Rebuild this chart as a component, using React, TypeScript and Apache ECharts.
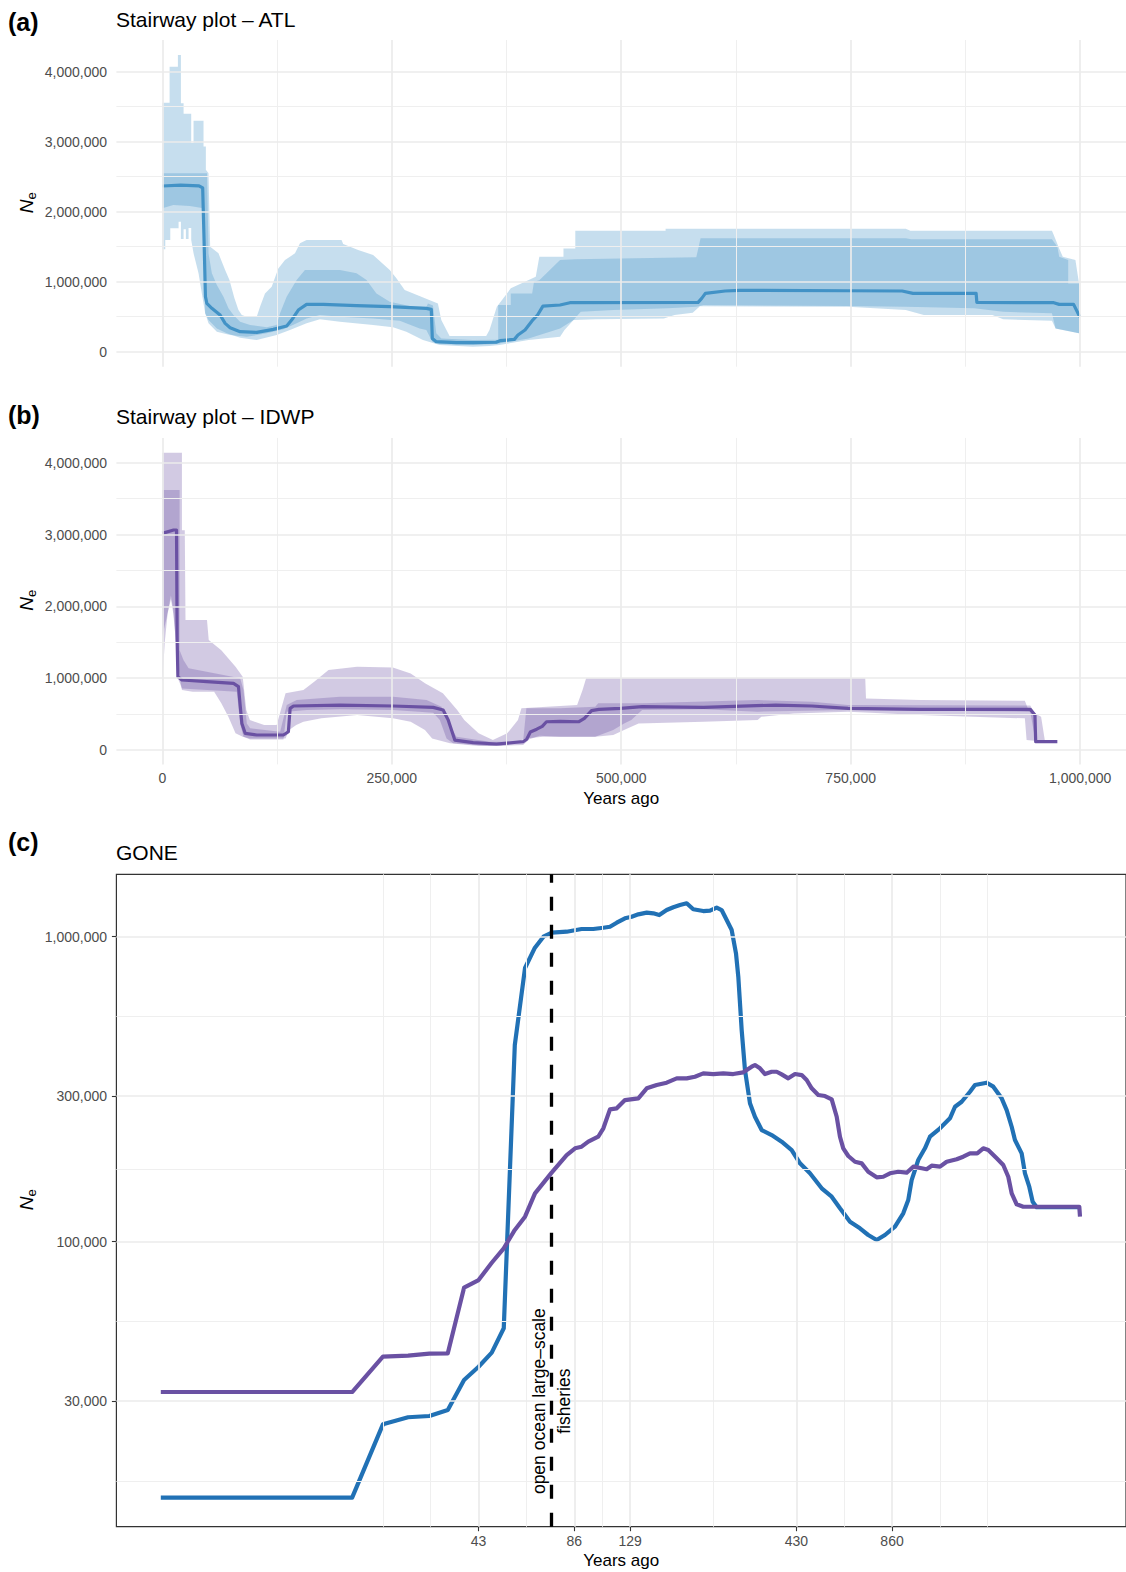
import React, { useEffect, useRef } from 'react';
import * as echarts from 'echarts';

type P = [number, number];

// ---------- Panel (a): Stairway plot – ATL (years ago, Ne) ----------
const atlMedian: P[] = [
  [0, 2367000], [20000, 2380000], [40000, 2370000], [44000, 2340000], [45500, 1600000], [47000, 786000],
  [48550, 690000], [54000, 620000], [63000, 524000], [68500, 405000], [73900, 343000], [84800, 286000],
  [102900, 276000], [121000, 319000], [135500, 367000], [140900, 452000], [148200, 595000], [157200, 676000],
  [175400, 676000], [211600, 657000], [247800, 643000], [287700, 619000], [293100, 605000], [294200, 190000],
  [298500, 143000], [320300, 129000], [338400, 129000], [363700, 135000], [368000, 157000], [383600, 176000],
  [387500, 238000], [395200, 310000], [403000, 443000], [408900, 524000], [414700, 652000], [433400, 667000],
  [444100, 700000], [583800, 705000], [587700, 762000], [591700, 833000], [613300, 867000], [629000, 876000],
  [747100, 871000], [806100, 867000], [817900, 833000], [886700, 833000], [887500, 705000], [971300, 700000],
  [977200, 676000], [992900, 676000], [999600, 500000],
];
const atlUpper95: P[] = [
  [0, 3557000], [7970, 3557000], [7970, 4070000], [17030, 4070000], [17030, 4240000], [20290, 4240000],
  [20290, 3550000], [23190, 3550000], [23190, 3400000], [31520, 3400000], [31520, 2980000], [34060, 2980000],
  [34060, 3300000], [44930, 3300000], [44930, 2930000], [47460, 2930000], [47460, 2600000], [50360, 2550000],
  [52170, 1500000], [61230, 1405000], [68470, 1167000], [73180, 1024000], [78620, 762000], [82970, 595000],
  [86590, 524000], [92020, 500000], [102900, 500000], [106500, 643000], [111900, 833000], [119200, 929000],
  [126400, 1190000], [133700, 1310000], [144600, 1405000], [150000, 1548000], [157200, 1595000], [195300, 1595000],
  [197100, 1538000], [213400, 1452000], [229700, 1381000], [247800, 1167000], [255100, 1048000], [264100, 881000],
  [282200, 786000], [300300, 690000], [304000, 452000], [313000, 224000], [352900, 224000], [356500, 310000],
  [364500, 643000], [366000, 667000], [379700, 905000], [406900, 1071000], [410800, 1357000], [437100, 1357000],
  [437100, 1476000], [450000, 1476000], [450000, 1729000], [548400, 1729000], [548400, 1757000], [810000, 1757000],
  [815000, 1729000], [969300, 1729000], [971300, 1667000], [977200, 1476000], [981100, 1357000], [994900, 1310000],
  [998800, 976000],
];
const atlLower95: P[] = [
  [0, 1462000], [3260, 1462000], [3260, 1595000], [8700, 1595000], [8700, 1762000], [17750, 1762000],
  [17750, 1857000], [20290, 1857000], [20290, 1610000], [23190, 1610000], [23190, 1750000], [25720, 1750000],
  [25720, 1610000], [28620, 1610000], [28620, 1767000], [31520, 1767000], [31520, 1595000], [34060, 1405000],
  [39490, 1119000], [43110, 833000], [46740, 548000], [50360, 452000], [59420, 333000], [70290, 262000],
  [84780, 200000], [102900, 167000], [124600, 238000], [139100, 310000], [157200, 405000], [171700, 462000],
  [193500, 429000], [229700, 381000], [251400, 348000], [265900, 286000], [284000, 167000], [302200, 95000],
  [338400, 71000], [356500, 81000], [367400, 95000], [399100, 167000], [433400, 214000], [438200, 310000],
  [448100, 452000], [471700, 462000], [546400, 476000], [558200, 524000], [577900, 557000], [585800, 650000],
  [747100, 643000], [810000, 595000], [829700, 524000], [904400, 524000], [916200, 462000], [969300, 443000],
  [973300, 333000], [998800, 262000],
];
const atlUpper75: P[] = [
  [0, 2548000], [48700, 2548000], [50000, 1700000], [50360, 1405000], [54000, 1119000], [59420, 952000],
  [66650, 786000], [72080, 619000], [77510, 524000], [84780, 429000], [95650, 381000], [113800, 348000],
  [124600, 381000], [128300, 548000], [135500, 786000], [146400, 1024000], [155400, 1167000], [193500, 1167000],
  [211600, 1119000], [222500, 1024000], [233300, 833000], [247800, 714000], [273200, 643000], [287700, 640000],
  [289500, 690000], [294900, 660000], [298500, 262000], [304000, 190000], [338400, 167000], [366000, 170000],
  [366000, 667000], [379700, 667000], [379700, 833000], [403000, 833000], [405000, 1000000], [410800, 1020000],
  [433400, 1310000], [450000, 1320000], [581800, 1348000], [586500, 1619000], [810000, 1619000], [815900, 1605000],
  [969300, 1605000], [975200, 1500000], [977200, 1357000], [987000, 1310000], [987000, 976000], [998800, 976000],
];
const atlLower75: P[] = [
  [0, 2048000], [12000, 2095000], [30000, 2080000], [44900, 2048000], [46000, 1000000], [46740, 548000],
  [50360, 405000], [59420, 286000], [73900, 238000], [92020, 214000], [113800, 262000], [131900, 319000],
  [146400, 405000], [157200, 476000], [171700, 524000], [193500, 500000], [229700, 476000], [258700, 443000],
  [280400, 333000], [287700, 310000], [294200, 143000], [302200, 110000], [338400, 95000], [363700, 110000],
  [399100, 190000], [433400, 333000], [448100, 452000], [455900, 571000], [491300, 595000], [550400, 619000],
  [581800, 643000], [589700, 667000], [747100, 652000], [810000, 643000], [884700, 619000], [916200, 571000],
  [969300, 548000], [973300, 333000], [998800, 262000],
];

// ---------- Panel (b): Stairway plot – IDWP ----------
const idwpMedian: P[] = [
  [0, 3016000], [12300, 3063000], [15500, 3063000], [16200, 1500000], [17000, 1020000], [21400, 975000],
  [48600, 951000], [77600, 928000], [83000, 882000], [85000, 600000], [86700, 371000], [90300, 232000],
  [103000, 209000], [132000, 209000], [137400, 255000], [138500, 450000], [139300, 580000], [142900, 613000],
  [193600, 626000], [251600, 613000], [295200, 594000], [306000, 557000], [311500, 418000], [318700, 139000],
  [338700, 102000], [364100, 84000], [393100, 116000], [397000, 150000], [401000, 250000], [408000, 290000],
  [414000, 330000], [418600, 394000], [433400, 400000], [454000, 394000], [459900, 441000], [467700, 548000],
  [475600, 566000], [499200, 580000], [522800, 603000], [589700, 594000], [668400, 626000], [707700, 613000],
  [747100, 580000], [825700, 566000], [945700, 566000], [950800, 487000], [951600, 116000], [975200, 116000],
];
const idwpUpper95: P[] = [
  [0, 4140000], [21400, 4140000], [21400, 3060000], [24500, 3060000], [25300, 1810000], [48700, 1810000],
  [50600, 1530000], [64300, 1390000], [79800, 1160000], [87600, 1020000], [91500, 557000], [95400, 418000],
  [111000, 348000], [124600, 348000], [134300, 789000], [153800, 835000], [165500, 951000], [181100, 1114000],
  [212200, 1160000], [251200, 1150000], [270600, 1067000], [286200, 928000], [305700, 789000], [321300, 557000],
  [329000, 418000], [344600, 232000], [360200, 139000], [375800, 232000], [387500, 418000], [391300, 580000],
  [452000, 626000], [457900, 835000], [461800, 998000], [765900, 998000], [766700, 719000], [825700, 696000],
  [939800, 687000], [943700, 557000], [957500, 464000], [961500, 139000],
];
const idwpLower95: P[] = [
  [0, 928000], [2700, 1500000], [5800, 1900000], [9400, 2100000], [12000, 1900000], [15600, 1400000],
  [19500, 974000], [21400, 835000], [33100, 812000], [56500, 812000], [64300, 650000], [72000, 464000],
  [79800, 232000], [87600, 186000], [95400, 162000], [134300, 162000], [138200, 278000], [145900, 348000],
  [153800, 394000], [173300, 441000], [212200, 487000], [251200, 441000], [270600, 394000], [286200, 278000],
  [294000, 162000], [313500, 93000], [344600, 56000], [368000, 56000], [383600, 84000], [395200, 162000],
  [414700, 186000], [471700, 186000], [491300, 209000], [503100, 278000], [518900, 371000], [589700, 394000],
  [648700, 418000], [652700, 464000], [688000, 510000], [747100, 534000], [825700, 487000], [939800, 441000],
  [941700, 139000], [961500, 116000],
];
const idwpUpper75: P[] = [
  [0, 3620000], [18850, 3620000], [18850, 1390000], [23200, 1250000], [28650, 1140000], [84850, 1000000],
  [88470, 835000], [92100, 371000], [95700, 302000], [128400, 255000], [135600, 626000], [146500, 696000],
  [193600, 742000], [251600, 742000], [287900, 696000], [304200, 603000], [309700, 418000], [320500, 186000],
  [356800, 116000], [393100, 116000], [396700, 580000], [433400, 580000], [471700, 603000], [475000, 650000],
  [522800, 650000], [648700, 696000], [707700, 673000], [747100, 626000], [945700, 620000], [950800, 500000],
  [951600, 130000],
];
const idwpLower75: P[] = [
  [0, 1580000], [5000, 1860000], [9400, 2150000], [12000, 1950000], [15200, 1440000], [17770, 974000],
  [21400, 858000], [81200, 812000], [84850, 371000], [88470, 186000], [95700, 148000], [132000, 148000],
  [135600, 534000], [157400, 557000], [193600, 566000], [251600, 557000], [295200, 520000], [302400, 418000],
  [309700, 162000], [316900, 93000], [356800, 56000], [393100, 70000], [400000, 150000], [411200, 200000],
  [433400, 186000], [471700, 186000], [491300, 278000], [503100, 371000], [511000, 418000], [522800, 557000],
  [589700, 566000], [648700, 534000], [747100, 557000], [939800, 534000], [945700, 530000], [951600, 116000],
];

// ---------- Panel (c): GONE (years ago, Ne) ----------
const goneAtl: P[] = [
  [4.3, 14480], [8.6, 14480], [12.9, 14480], [17.2, 14480], [21.5, 25190], [25.8, 26570], [30.1, 26830],
  [34.4, 28070], [38.7, 35210], [43, 38920], [47.3, 43270], [51.6, 52010], [55.9, 441500], [60.2, 789500],
  [64.5, 916200], [68.8, 1000000], [73.1, 1031000], [81.4, 1038500], [90.7, 1060000], [98.7, 1060000],
  [106.2, 1070000], [111.4, 1078000], [117.0, 1111500], [124.2, 1149000], [130.4, 1163000], [136.8, 1184000],
  [145.4, 1199000], [152.5, 1193000], [159.2, 1178000], [168.0, 1223000], [176.3, 1249000], [185.0, 1270000],
  [194.2, 1287000], [203.7, 1230000], [219.0, 1214000], [229.9, 1217000], [241.4, 1245000], [250.2, 1223000],
  [259.5, 1134000], [269.1, 1052000], [277.6, 882400], [282.3, 739300], [289.3, 494400], [296.3, 365600],
  [307.2, 284300], [318.5, 256900], [334.4, 232400], [359.5, 223800], [386.5, 212800], [415.6, 199800],
  [441.4, 180700], [474.5, 167600], [516.6, 149700], [555.4, 140500], [589.7, 128700], [634.2, 116300],
  [681.6, 110600], [723.8, 105200], [769.4, 101300], [817.0, 105200], [878.4, 112000], [932.8, 123900],
  [967.2, 137000], [991.2, 159300], [1039.8, 185300], [1091.6, 202400], [1131.8, 220900], [1217.4, 235400],
  [1308.3, 253900], [1357.0, 277000], [1424.2, 287700], [1512.7, 310300], [1568.4, 326500], [1707.5, 332200],
  [1791.3, 322400], [1903.1, 295200], [1973.4, 270200], [2046.4, 238200], [2095.5, 215600], [2199.7, 194900],
  [2253.1, 167600], [2324.3, 151500], [2382.3, 135200], [2452.4, 129700], [3357, 129700],
];
const goneIdwp: P[] = [
  [4.3, 32150], [8.6, 32150], [12.9, 32150], [17.2, 32150], [21.5, 41980], [25.8, 42290], [30.1, 42940],
  [34.4, 43070], [38.7, 70670], [43, 74880], [47.3, 85330], [51.6, 95150], [55.9, 109300], [60.2, 120800],
  [64.7, 144100], [73.0, 168400], [81.4, 192400], [86.5, 202400], [90.7, 204900], [95.2, 212800],
  [102.3, 220900], [106.2, 235400], [111.4, 271600], [117.0, 273700], [124.2, 291400], [136.8, 295200],
  [145.4, 318400], [156.3, 326500], [168.0, 332200], [180.7, 343300], [194.2, 343300], [206.2, 347500],
  [219.0, 356500], [235.5, 354600], [253.2, 356500], [272.2, 354600], [292.7, 359200], [311.0, 374800],
  [318.5, 379600], [330.3, 370300], [342.5, 354600], [359.5, 360800], [372.8, 360800], [386.5, 353800],
  [405.5, 343300], [425.7, 354600], [446.9, 351800], [463.3, 339000], [480.4, 318400], [503.9, 302700],
  [529.0, 300400], [555.4, 293000], [575.9, 256900], [589.7, 220900], [604.0, 202400], [626.3, 191000],
  [657.5, 182900], [690.2, 180700], [723.8, 169600], [769.4, 162600], [807.0, 163300], [847.2, 167600],
  [899.6, 169600], [956.3, 168400], [1002.8, 176200], [1066.0, 174100], [1105.1, 172800], [1146.0, 177500],
  [1217.4, 176200], [1277.5, 182900], [1373.4, 186300], [1440.5, 190000], [1512.7, 194900], [1594.4, 194900],
  [1665.4, 202400], [1726.9, 199800], [1835.7, 187700], [1925.1, 178400], [1996.5, 163300], [2046.4, 144100],
  [2121.6, 132600], [2225.7, 130200], [3340, 130200], [3357, 120800],
];
const fisheriesYear = 73;
const fisheriesLabelNe = 30000;
const fisheriesLabel = 'open ocean large–scale\nfisheries';

// ---------- Axis breaks ----------
const stairXTicks = [0, 250000, 500000, 750000, 1000000];
const stairXMinor = [125000, 375000, 625000, 875000];
const stairYTicks = [0, 1000000, 2000000, 3000000, 4000000];
const stairYMinor = [500000, 1500000, 2500000, 3500000];
const goneXTicks = [43, 86, 129, 430, 860];
const goneXMinor = [21.5, 30.4, 60.8, 105.3, 235.5, 608, 1216, 1720];
const goneYTicks = [30000, 100000, 300000, 1000000];
const goneYMinor = [16432, 54772, 173205, 547723];

const FONT = '"Liberation Sans", Arial, Helvetica, sans-serif';
const GRID_MAJOR = { color: '#EBEBEB', width: 1.7, type: 'solid' };
const GRID_MINOR = { color: '#EFEFEF', width: 1, type: 'solid' };
const ATL_BLUE = '#4292c6';
const ATL_BAND = 'rgba(66,146,198,0.3)';
const IDWP_PURPLE = '#6a51a3';
const IDWP_BAND = 'rgba(106,81,163,0.3)';
const GONE_BLUE = '#2171b5';

const fmt = (v: number) => Math.round(Number(v)).toLocaleString('en-US');

function gridLineSeries(idx: number, xMaj: number[], xMin: number[], yMaj: number[], yMin: number[]) {
  return {
    type: 'line',
    xAxisIndex: idx,
    yAxisIndex: idx,
    data: [],
    silent: true,
    z: 1,
    markLine: {
      silent: true,
      symbol: ['none', 'none'],
      label: { show: false },
      emphasis: { disabled: true },
      lineStyle: { type: 'solid' },
      data: [
        ...xMin.map((v) => ({ xAxis: v, lineStyle: GRID_MINOR })),
        ...yMin.map((v) => ({ yAxis: v, lineStyle: GRID_MINOR })),
        ...xMaj.map((v) => ({ xAxis: v, lineStyle: GRID_MAJOR })),
        ...yMaj.map((v) => ({ yAxis: v, lineStyle: GRID_MAJOR })),
      ],
    },
  };
}

function bandSeries(idx: number, upper: P[], lower: P[], fill: string) {
  return {
    type: 'custom',
    xAxisIndex: idx,
    yAxisIndex: idx,
    coordinateSystem: 'cartesian2d',
    silent: true,
    clip: true,
    z: 2,
    data: [upper[0]],
    renderItem: (_params: any, api: any) => {
      const pts = upper.map((p) => api.coord(p)).concat(lower.slice().reverse().map((p) => api.coord(p)));
      return { type: 'polygon', shape: { points: pts }, style: { fill, stroke: 'none' } };
    },
  };
}

function lineSeries(idx: number, data: P[], color: string, width: number, z = 3) {
  return {
    type: 'line',
    xAxisIndex: idx,
    yAxisIndex: idx,
    data,
    showSymbol: false,
    symbol: 'none',
    silent: true,
    z,
    lineStyle: { color, width, cap: 'butt', join: 'round' },
  };
}

const hidden = { show: false };
const tickLabel = (customValues: number[], margin: number) => ({
  show: true,
  customValues,
  formatter: (v: number) => fmt(v),
  color: '#4D4D4D',
  fontSize: 14,
  fontFamily: FONT,
  margin,
});

function text(x: number, y: number, t: string, size: number, extra: any = {}) {
  return {
    type: 'text',
    x,
    y,
    silent: true,
    style: {
      text: t,
      fontSize: size,
      fontFamily: FONT,
      fill: '#000',
      align: 'left',
      verticalAlign: 'middle',
      ...extra,
    },
  };
}

function neTitle(cx: number, cy: number) {
  return {
    type: 'group',
    x: cx,
    y: cy,
    rotation: Math.PI / 2,
    silent: true,
    children: [
      { type: 'text', x: -3, y: 0, style: { text: 'N', fontSize: 19, fontStyle: 'italic', fontFamily: FONT, fill: '#000', align: 'center', verticalAlign: 'middle' } },
      { type: 'text', x: 7.5, y: 5, style: { text: 'e', fontSize: 13, fontFamily: FONT, fill: '#000', align: 'center', verticalAlign: 'middle' } },
    ],
  };
}

export default function App() {
  const ref = useRef<HTMLDivElement>(null);

  useEffect(() => {
    document.body.style.margin = '0';
    if (!ref.current) return;
    const chart = echarts.init(ref.current, undefined, { renderer: 'svg' });

    const gridA = { left: 116.4, top: 40, width: 1009.6, height: 326.7, show: false };
    const gridB = { left: 116.4, top: 437.9, width: 1009.6, height: 326.5, show: false };
    const gridC = { left: 116.4, top: 874.3, width: 1009.6, height: 652.4, show: true, borderColor: '#333333', borderWidth: 1.2, backgroundColor: 'transparent' };

    const baseAxis = { axisLine: hidden, axisTick: hidden, splitLine: hidden, minorSplitLine: hidden };

    const option: any = {
      animation: false,
      backgroundColor: '#ffffff',
      textStyle: { fontFamily: FONT },
      grid: [gridA, gridB, gridC],
      xAxis: [
        { ...baseAxis, type: 'value', gridIndex: 0, min: -50000, max: 1050000, axisLabel: hidden },
        { ...baseAxis, type: 'value', gridIndex: 1, min: -50000, max: 1050000, axisLabel: tickLabel(stairXTicks, 7) },
        {
          ...baseAxis,
          type: 'log',
          logBase: 10,
          gridIndex: 2,
          min: 3.117,
          max: 4685,
          axisLabel: tickLabel(goneXTicks, 7.5),
          axisTick: { show: true, customValues: goneXTicks, length: 4.5, lineStyle: { color: '#333333', width: 1.1 } },
        },
      ],
      yAxis: [
        { ...baseAxis, type: 'value', gridIndex: 0, min: -214300, max: 4452900, axisLabel: tickLabel(stairYTicks, 9.3) },
        { ...baseAxis, type: 'value', gridIndex: 1, min: -200000, max: 4345000, axisLabel: tickLabel(stairYTicks, 9.3) },
        {
          ...baseAxis,
          type: 'log',
          logBase: 10,
          gridIndex: 2,
          min: 11630,
          max: 1602000,
          axisLabel: tickLabel(goneYTicks, 9.3),
          axisTick: { show: true, customValues: goneYTicks, length: 4.5, lineStyle: { color: '#333333', width: 1.1 } },
        },
      ],
      series: [
        gridLineSeries(0, stairXTicks, stairXMinor, stairYTicks, stairYMinor),
        bandSeries(0, atlUpper95, atlLower95, ATL_BAND),
        bandSeries(0, atlUpper75, atlLower75, ATL_BAND),
        lineSeries(0, atlMedian, ATL_BLUE, 3.2),

        gridLineSeries(1, stairXTicks, stairXMinor, stairYTicks, stairYMinor),
        bandSeries(1, idwpUpper95, idwpLower95, IDWP_BAND),
        bandSeries(1, idwpUpper75, idwpLower75, IDWP_BAND),
        lineSeries(1, idwpMedian, IDWP_PURPLE, 3.2),

        gridLineSeries(2, goneXTicks, goneXMinor, goneYTicks, goneYMinor),
        lineSeries(2, goneAtl, GONE_BLUE, 4.2, 4),
        lineSeries(2, goneIdwp, IDWP_PURPLE, 4.2, 5),
        {
          type: 'scatter',
          xAxisIndex: 2,
          yAxisIndex: 2,
          z: 10,
          silent: true,
          symbolSize: 1,
          itemStyle: { color: 'rgba(0,0,0,0)' },
          data: [[fisheriesYear, fisheriesLabelNe]],
          label: {
            show: true,
            position: 'inside',
            formatter: fisheriesLabel,
            rotate: 90,
            fontSize: 17.5,
            lineHeight: 25,
            color: '#000000',
            opacity: 1,
            textBorderWidth: 0,
            fontFamily: FONT,
            align: 'center',
            verticalAlign: 'middle',
          },
          markLine: {
            silent: true,
            symbol: ['none', 'none'],
            label: { show: false },
            emphasis: { disabled: true },
            lineStyle: { color: '#000', width: 3.3, type: [14, 14], cap: 'butt' },
            data: [{ xAxis: fisheriesYear }],
          },
        },
      ],
      graphic: {
        elements: [
          text(8, 21.5, '(a)', 25, { fontWeight: 'bold' }),
          text(116, 19.5, 'Stairway plot – ATL', 21),
          neTitle(26, 203.3),

          text(8, 415, '(b)', 25, { fontWeight: 'bold' }),
          text(116, 416.3, 'Stairway plot – IDWP', 21),
          neTitle(26, 601),
          text(621.2, 798, 'Years ago', 17, { align: 'center' }),

          text(8, 841.5, '(c)', 25, { fontWeight: 'bold' }),
          text(116, 852.8, 'GONE', 21),
          neTitle(26, 1200.5),
          text(621.2, 1560.5, 'Years ago', 17, { align: 'center' }),
        ],
      },
    };

    chart.setOption(option);
    return () => chart.dispose();
  }, []);

  return <div ref={ref} style={{ width: 1126, height: 1572 }} />;
}
